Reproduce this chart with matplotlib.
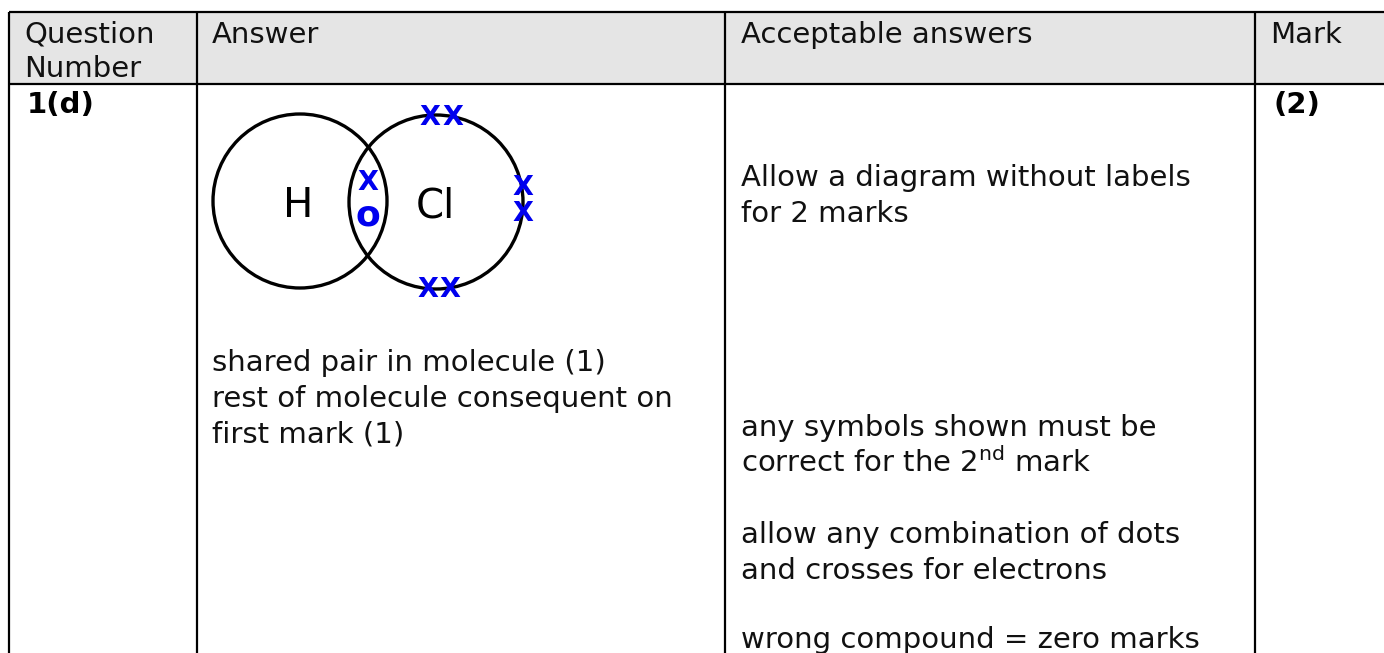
import matplotlib
matplotlib.use('Agg')
import matplotlib.pyplot as plt
from matplotlib.patches import Circle, Rectangle

W, H = 1384, 653

# columnas de la tabla (pixeles)
col_lines = [9, 197, 725, 1255]
top_y = 12
header_y = 84
header_labels = ['Question\nNumber', 'Answer', 'Acceptable answers', 'Mark']
header_x = [24, 212, 741, 1270]

question = '1(d)'
mark = '(2)'

answer_lines = ['shared pair in molecule (1)',
                'rest of molecule consequent on',
                'first mark (1)']
answer_y = [371, 407, 443]

acceptable = ['Allow a diagram without labels', 'for 2 marks',
              'any symbols shown must be', 'allow any combination of dots',
              'and crosses for electrons', 'wrong compound = zero marks']
acceptable_y = [186, 222, 436, 543, 579, 648]
second_mark_y = 472

# diagrama HCl
circle_x = [300, 436]
circle_y = [201, 202]
radius = 87
atoms = ['H', 'Cl']
atom_x = [298, 435]
atom_base = 217
cross_x = [368, 430, 453, 523, 523, 428, 450]
cross_base = [190, 125, 125, 195, 221, 297, 297]
dot_x = 368
dot_base = 225

FS = 21
BLUE = '#0000ee'
fig = plt.figure(figsize=(W / 100, H / 100), dpi=100)
ax = fig.add_axes([0, 0, 1, 1])
ax.set_xlim(0, W)
ax.set_ylim(H, 0)
ax.axis('off')

ax.add_patch(Rectangle((col_lines[0], top_y), W - col_lines[0], header_y - top_y,
                       facecolor='#e5e5e5', edgecolor='none'))
for x in col_lines:
    ax.plot([x, x], [top_y, H], color='black', lw=1.6, solid_capstyle='butt')
for y in [top_y, header_y]:
    ax.plot([col_lines[0], W], [y, y], color='black', lw=1.6, solid_capstyle='butt')

for lab, x in zip(header_labels, header_x):
    for i, part in enumerate(lab.split('\n')):
        ax.text(x, 43 + i * 34, part, fontsize=FS, va='baseline', color='#111111')

ax.text(27, 113, question, fontsize=FS, fontweight='bold', va='baseline')
ax.text(1273, 113, mark, fontsize=FS, fontweight='bold', va='baseline')

for cx, cy in zip(circle_x, circle_y):
    ax.add_patch(Circle((cx, cy), radius, fill=False, edgecolor='black', lw=2.4))
for a, x in zip(atoms, atom_x):
    ax.text(x, atom_base, a, fontsize=29, ha='center', va='baseline', color='black')
for x, y in zip(cross_x, cross_base):
    ax.text(x, y, 'X', fontsize=19.5, ha='center', va='baseline', color=BLUE, fontweight='bold')
ax.text(dot_x, dot_base, 'o', fontsize=26, ha='center', va='baseline', color=BLUE, fontweight='bold')

for s, y in zip(answer_lines, answer_y):
    ax.text(header_x[1], y, s, fontsize=FS, va='baseline', color='#111111')
for s, y in zip(acceptable, acceptable_y):
    ax.text(header_x[2], y, s, fontsize=FS, va='baseline', color='#111111')
ax.text(header_x[2], second_mark_y, 'correct for the 2$^{\\mathregular{nd}}$ mark',
        fontsize=FS, va='baseline', color='#111111')

fig.savefig('out.png', dpi=100)
